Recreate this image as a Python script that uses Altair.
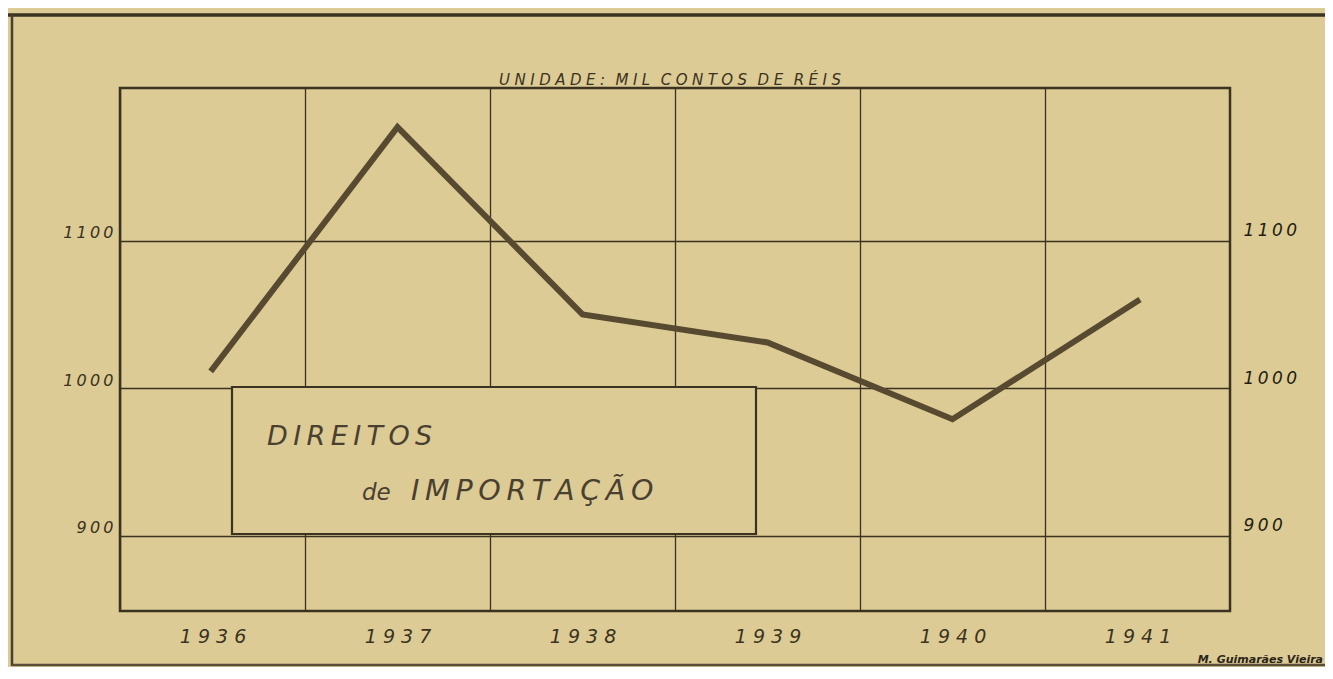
import altair as alt
import pandas as pd

# ---- data -------------------------------------------------------------
years = [1936, 1937, 1938, 1939, 1940, 1941]
values = [1013, 1177, 1050, 1031, 979, 1059]          # mil contos de réis

year_labels = ["1 9 3 6", "1 9 3 7", "1 9 3 8", "1 9 3 9", "1 9 4 0", "1 9 4 1"]
y_ticks = [900, 1000, 1100]
y_tick_labels = ["9\u20090\u20090", "1\u20090\u20090\u20090", "1\u20091\u20090\u20090"]

title_text = "UNIDADE: MIL CONTOS DE RÉIS"
legend_line1 = "DIREITOS"
legend_de = "de"
legend_line2 = "IMPORTAÇÃO"
signature = "M. Guimarães Vieira"

df = pd.DataFrame({"ano": years, "valor": values})

# ---- style -------------------------------------------------------------
BG = "#dccb94"
INK = "#3b3221"
LINE = "#584a30"
FONT = "DejaVu Sans"

W, H = 1110, 523
COL = W / len(years)


def spaced(s, sep="\u2009"):
    return sep.join(list(s))


# x axis: grid lines at column boundaries, labels shifted to column centres
x_bounds = [y - 0.5 for y in years]
x_label_expr = " : ".join(
    f"datum.value == {b} ? '{lab}'" for b, lab in zip(x_bounds, year_labels)
) + " : ''"
y_label_expr = " : ".join(
    f"datum.value == {v} ? '{lab}'" for v, lab in zip(y_ticks, y_tick_labels)
) + " : ''"

x_scale = alt.Scale(domain=[years[0] - 0.5, years[-1] + 0.5], nice=False, zero=False)
y_scale = alt.Scale(domain=[849, 1203.5], nice=False, zero=False)

x_axis = alt.Axis(
    values=x_bounds,
    labelExpr=x_label_expr,
    labelOffset=COL / 2,
    labelOverlap=False,
    labelFlush=False,
    labelBound=False,
    grid=True,
    gridColor=INK,
    gridWidth=1.3,
    gridOpacity=1,
    ticks=False,
    domain=False,
    labelPadding=16,
    labelFontSize=19,
    labelFont=FONT,
    labelFontStyle="italic",
    labelColor=INK,
    labelBaseline="top",
    title=None,
)

line = alt.Chart(df).mark_line(
    color=LINE, strokeWidth=6, strokeJoin="miter", strokeCap="square"
).encode(
    x=alt.X("ano:Q", scale=x_scale, axis=x_axis),
    y=alt.Y(
        "valor:Q",
        scale=y_scale,
        axis=alt.Axis(
            values=y_ticks,
            labelExpr=y_label_expr,
            orient="left",
            grid=True,
            gridColor=INK,
            gridWidth=1.3,
            gridOpacity=1,
            ticks=False,
            domain=False,
            labelPadding=7,
            labelFontSize=16,
            labelFont=FONT,
            labelFontStyle="italic",
            labelColor=INK,
            labelBaseline="alphabetic",
            labelOffset=-3,
            title=None,
        ),
    ),
)

right = alt.Chart(df).mark_line(opacity=0).encode(
    x=alt.X("ano:Q", scale=x_scale, axis=x_axis),
    y=alt.Y(
        "valor:Q",
        scale=y_scale,
        axis=alt.Axis(
            values=y_ticks,
            labelExpr=y_label_expr,
            orient="right",
            grid=False,
            ticks=False,
            domain=False,
            labelPadding=13,
            labelFontSize=17,
            labelFont=FONT,
            labelFontStyle="italic",
            labelColor="#231c10",
            labelBaseline="alphabetic",
            labelOffset=-5,
            title=None,
        ),
    ),
)

one = alt.Data(values=[{"k": 1}])

# legend box (annotation)
box = alt.Chart(one).mark_rect(
    fill=BG, stroke=INK, strokeWidth=2.2
).encode(
    x=alt.value(112), x2=alt.value(636), y=alt.value(299), y2=alt.value(446)
)

txt_style = dict(font=FONT, fontStyle="italic", color="#4a4030", align="left",
                 baseline="alphabetic")

t1 = alt.Chart(one).mark_text(text=spaced(legend_line1), fontSize=27, **txt_style).encode(
    x=alt.value(147), y=alt.value(357)
)
t_de = alt.Chart(one).mark_text(text=legend_de, fontSize=23, **txt_style).encode(
    x=alt.value(242), y=alt.value(412)
)
t2 = alt.Chart(one).mark_text(text=spaced(legend_line2), fontSize=28.5, **txt_style).encode(
    x=alt.value(291), y=alt.value(412)
)

title_str = "\u2002\u2009".join(spaced(w, "\u2009\u200a") for w in title_text.split(" "))
title = alt.Chart(one).mark_text(
    text=title_str,
    fontSize=15, font=FONT, fontStyle="italic", color=INK, align="center",
    baseline="alphabetic",
).encode(x=alt.value(550), y=alt.value(-3))

sig = alt.Chart(one).mark_text(
    text=signature, fontSize=11, font=FONT, fontStyle="italic", fontWeight="bold",
    color="#2a2418", align="right", baseline="alphabetic",
).encode(x=alt.value(1203), y=alt.value(575))

# outer frame of the sheet (annotation)
frame_top = alt.Chart(one).mark_rule(color="#3a3222", strokeWidth=3.5).encode(
    x=alt.value(-115), x2=alt.value(1215), y=alt.value(-73)
)
frame_left = alt.Chart(one).mark_rule(color="#4a4030", strokeWidth=2.5).encode(
    x=alt.value(-108), y=alt.value(-73), y2=alt.value(578)
)
frame_bottom = alt.Chart(one).mark_rule(color="#5a4e38", strokeWidth=2.5).encode(
    x=alt.value(-108), x2=alt.value(1215), y=alt.value(577)
)

chart = (
    alt.layer(box, line, right, t1, t_de, t2, title, sig,
              frame_top, frame_left, frame_bottom)
    .resolve_axis(y="independent")
    .properties(
        width=W,
        height=H,
        background=BG,
        autosize="none",
        padding={"left": 112, "top": 80, "right": 95, "bottom": 56},
    )
    .configure_view(stroke=INK, strokeWidth=2.5, fill=BG)
)

chart.save("out.html", embed_options={"renderer": "svg", "actions": False})
